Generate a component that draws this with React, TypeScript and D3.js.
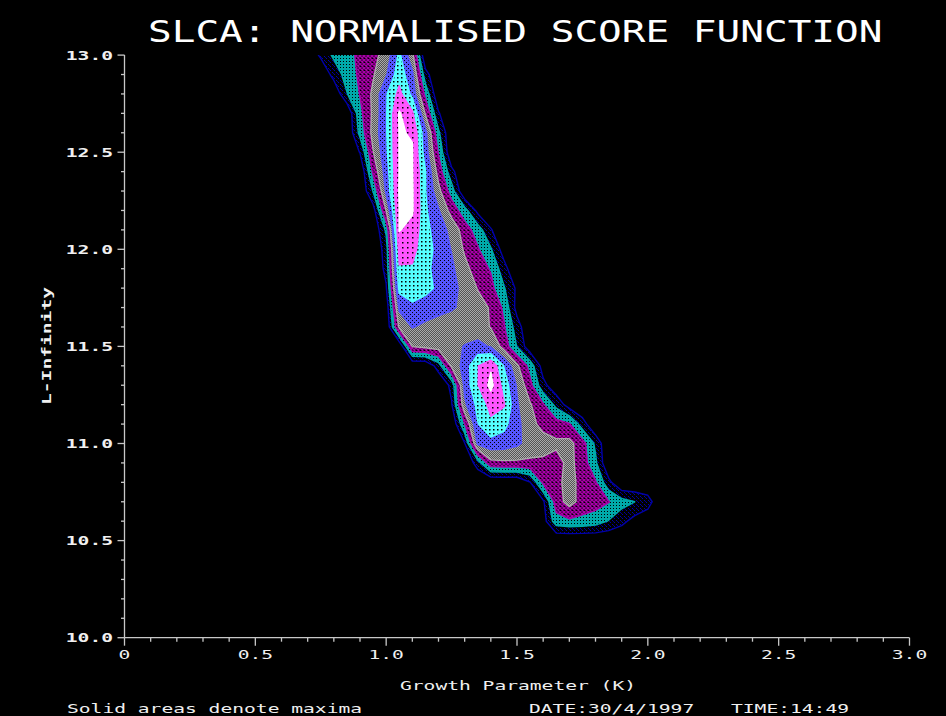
import React from 'react';
import * as d3 from 'd3';

const W = 946;
const H = 716;

// Grid of the score surface: growth parameter K (columns) by L-infinity (rows, top row first)
const kValues = [0.70, 0.75, 0.80, 0.85, 0.90, 0.95, 1.00, 1.05, 1.10, 1.15, 1.20, 1.25, 1.30, 1.35, 1.40,
  1.45, 1.50, 1.55, 1.60, 1.65, 1.70, 1.75, 1.80, 1.85, 1.90, 1.95, 2.00, 2.05, 2.10];
const lValues = [13.0, 12.9, 12.8, 12.7, 12.6, 12.5, 12.4, 12.3, 12.2, 12.1, 12.0, 11.9, 11.8, 11.7, 11.6,
  11.5, 11.4, 11.3, 11.2, 11.1, 11.0, 10.9, 10.8, 10.7, 10.6, 10.5];

// Normalised score (contour units) per row of lValues, per column of kValues
const scoreRows = [
  [0.1, 1.2, 2.2, 2.7, 3.2, 3.7, 4.4, 6.2, 4.3, 0, /**/ 0, 0, 0, 0, 0, 0, 0, 0, 0, 0, /**/ 0, 0, 0, 0, 0, 0, 0, 0, 0],
  [0, 0, 1.4, 2.4, 3.2, 3.9, 4.9, 6.6, 5.2, 1.4, /**/ 0, 0, 0, 0, 0, 0, 0, 0, 0, 0, /**/ 0, 0, 0, 0, 0, 0, 0, 0, 0],
  [0, 0, 0.1, 1.95, 3.05, 4.2, 5.9, 7.3, 5.7, 2.7, /**/ 0.1, 0, 0, 0, 0, 0, 0, 0, 0, 0, /**/ 0, 0, 0, 0, 0, 0, 0, 0, 0],
  [0, 0, 0, 0, 2.7, 4.2, 5.9, 8.1, 7.2, 3.9, /**/ 1.1, 0, 0, 0, 0, 0, 0, 0, 0, 0, /**/ 0, 0, 0, 0, 0, 0, 0, 0, 0],
  [0, 0, 0, 0, 2.3, 4.35, 5.9, 8.05, 7.95, 5.3, /**/ 2.2, 0, 0, 0, 0, 0, 0, 0, 0, 0, /**/ 0, 0, 0, 0, 0, 0, 0, 0, 0],
  [0, 0, 0, 0, 1.05, 3.95, 5.8, 8.05, 8.05, 5.5, /**/ 2.9, 0, 0, 0, 0, 0, 0, 0, 0, 0, /**/ 0, 0, 0, 0, 0, 0, 0, 0, 0],
  [0, 0, 0, 0, 0, 3.2, 5.5, 8.05, 8.05, 6.05, /**/ 3.6, 1.3, 0, 0, 0, 0, 0, 0, 0, 0, /**/ 0, 0, 0, 0, 0, 0, 0, 0, 0],
  [0, 0, 0, 0, 0, 2.05, 5.2, 8.1, 8.1, 6.05, /**/ 4.3, 2.5, 0, 0, 0, 0, 0, 0, 0, 0, /**/ 0, 0, 0, 0, 0, 0, 0, 0, 0],
  [0, 0, 0, 0, 0, 0.5, 4.05, 8.02, 8.1, 6.15, /**/ 5.1, 3.6, 2.4, 0.7, 0, 0, 0, 0, 0, 0, /**/ 0, 0, 0, 0, 0, 0, 0, 0, 0],
  [0, 0, 0, 0, 0, 0, 2.2, 8.05, 7.7, 6.3, /**/ 5.5, 4.7, 3.5, 2.5, 1.1, 0, 0, 0, 0, 0, /**/ 0, 0, 0, 0, 0, 0, 0, 0, 0],
  [0, 0, 0, 0, 0, 0, 1.5, 7.4, 7.3, 6.4, /**/ 5.7, 4.95, 3.85, 3.1, 2.1, 0.5, 0, 0, 0, 0, /**/ 0, 0, 0, 0, 0, 0, 0, 0, 0],
  [0, 0, 0, 0, 0, 0, 1.3, 6.9, 6.9, 6.2, /**/ 5.7, 5.2, 4.3, 3.5, 2.9, 1.4, 0, 0, 0, 0, /**/ 0, 0, 0, 0, 0, 0, 0, 0, 0],
  [0, 0, 0, 0, 0, 0, 0.9, 6.3, 6.5, 6.3, /**/ 5.8, 5.3, 4.7, 3.95, 3.3, 2.1, 0.8, 0, 0, 0, /**/ 0, 0, 0, 0, 0, 0, 0, 0, 0],
  [0, 0, 0, 0, 0, 0, 0.3, 5.2, 5.8, 5.5, /**/ 5.3, 5.1, 4.8, 4.4, 3.9, 2.8, 0.6, 0, 0, 0, /**/ 0, 0, 0, 0, 0, 0, 0, 0, 0],
  [0, 0, 0, 0, 0, 0, 0, 4.2, 5.05, 4.8, /**/ 4.6, 4.5, 4.5, 4.4, 3.95, 3.1, 1.5, 0, 0, 0, /**/ 0, 0, 0, 0, 0, 0, 0, 0, 0],
  [0, 0, 0, 0, 0, 0, 0, 0, 4.05, 4.3, /**/ 4.5, 4.7, 5.05, 5.3, 4.9, 3.6, 1.95, 0.3, 0, 0, /**/ 0, 0, 0, 0, 0, 0, 0, 0, 0],
  [0, 0, 0, 0, 0, 0, 0, 0, 0, 0, /**/ 1.5, 4.2, 5.4, 6.95, 7.85, 5.95, 4.2, 2.6, 0.5, 0, /**/ 0, 0, 0, 0, 0, 0, 0, 0, 0],
  [0, 0, 0, 0, 0, 0, 0, 0, 0, 0, /**/ 0, 1.3, 5.3, 6.95, 8.3, 6.6, 4.9, 3.3, 1.3, 0.3, /**/ 0, 0, 0, 0, 0, 0, 0, 0, 0],
  [0, 0, 0, 0, 0, 0, 0, 0, 0, 0, /**/ 0, 0.9, 4.8, 6.3, 7.3, 7.1, 5.1, 4.1, 3.1, 1.7, /**/ 0.5, 0, 0, 0, 0, 0, 0, 0, 0],
  [0, 0, 0, 0, 0, 0, 0, 0, 0, 0, /**/ 0, 0, 2.95, 5.95, 6.8, 6.3, 5.3, 4.3, 3.7, 3.4, /**/ 3.1, 1.5, 0, 0, 0, 0, 0, 0, 0],
  [0, 0, 0, 0, 0, 0, 0, 0, 0, 0, /**/ 0, 0, 0.95, 5.2, 5.6, 5.5, 5.2, 4.6, 4.4, 4.2, /**/ 4.3, 3.4, 1.8, 0, 0, 0, 0, 0, 0],
  [0, 0, 0, 0, 0, 0, 0, 0, 0, 0, /**/ 0, 0, 0, 1.5, 3.7, 3.8, 3.8, 3.8, 3.8, 3.6, /**/ 4.3, 3.5, 2.2, 0, 0, 0, 0, 0, 0],
  [0, 0, 0, 0, 0, 0, 0, 0, 0, 0, /**/ 0, 0, 0, 0, 0, 0, 0, 0.95, 3.2, 3.7, /**/ 4.4, 3.6, 3.1, 1.3, 0, 0, 0, 0, 0],
  [0, 0, 0, 0, 0, 0, 0, 0, 0, 0, /**/ 0, 0, 0, 0, 0, 0, 0, 0, 0.8, 3.5, /**/ 4.4, 3.6, 3.4, 3.05, 2.4, 2.0, 1.5, 0, 0],
  [0, 0, 0, 0, 0, 0, 0, 0, 0, 0, /**/ 0, 0, 0, 0, 0, 0, 0, 0, 0.5, 2.6, /**/ 2.8, 2.7, 2.5, 1.95, 1.3, 0.6, 0.2, 0, 0],
  [0, 0, 0, 0, 0, 0, 0, 0, 0, 0, /**/ 0, 0, 0, 0, 0, 0, 0, 0, 0, 0, /**/ 0, 0, 0, 0, 0, 0, 0, 0, 0],
];

const contourLevels = [1, 2, 3, 4, 5, 6, 7, 8];
const levelColors = ['#0000AA', '#00AAAA', '#AA00AA', '#AAAAAA', '#5555FF', '#55FFFF', '#FF55FF', '#FFFFFF'];

const xMajorTicks = [0, 0.5, 1.0, 1.5, 2.0, 2.5, 3.0];
const xTickLabels = ['0', '0.5', '1.0', '1.5', '2.0', '2.5', '3.0'];
const yMajorTicks = [10.0, 10.5, 11.0, 11.5, 12.0, 12.5, 13.0];
const yTickLabels = ['10.0', '10.5', '11.0', '11.5', '12.0', '12.5', '13.0'];

const titleText = 'SLCA: NORMALISED SCORE FUNCTION';
const xAxisTitle = 'Growth Parameter (K)';
const yAxisTitle = 'L-Infinity';
const footNote = 'Solid areas denote maxima';
const dateText = 'DATE:30/4/1997';
const timeText = 'TIME:14:49';

const MONO = "'DejaVu Sans Mono', 'Liberation Mono', monospace";

function WideText(props: {
  x: number; y: number; text: string; size: number; sx: number;
  anchor?: string; bold?: boolean; fill?: string; rotate?: number;
}) {
  const { x, y, text, size, sx, anchor = 'start', bold = false, fill = '#FFFFFF', rotate } = props;
  const t = `translate(${x},${y})${rotate ? ` rotate(${rotate})` : ''} scale(${sx},1)`;
  return (
    <text transform={t} textAnchor={anchor} fontFamily={MONO} fontSize={size}
      fontWeight={bold ? 'bold' : 'normal'} fill={fill}>{text}</text>
  );
}

export default function App() {
  const xScale = d3.scaleLinear().domain([0, 3]).range([124.5, 909.5]);
  const yScale = d3.scaleLinear().domain([10, 13]).range([637.7, 55.1]);

  const nK = kValues.length;
  const nL = lValues.length;
  const dk = kValues[1] - kValues[0];
  const dl = lValues[1] - lValues[0];
  const flat = scoreRows.flat();
  const bands = d3.contours().size([nK, nL]).thresholds(contourLevels)(flat);

  const proj = d3.geoTransform({
    point: function (px: number, py: number) {
      // @ts-ignore
      this.stream.point(xScale(kValues[0] + (px - 0.5) * dk), yScale(lValues[0] + (py - 0.5) * dl));
    },
  });
  const path = d3.geoPath(proj as any);

  const [x0, x1] = xScale.range();
  const [y0, y1] = yScale.range();
  const xMinor = d3.range(0, 31).map((i) => i / 10);
  const yMinor = d3.range(0, 31).map((i) => 10 + i / 10);
  const axisColor = '#C8C8C8';
  const labelColor = '#F0F0F0';
  const sxSmall = 1.51;

  return (
    <div style={{ position: 'absolute', left: 0, top: 0, width: W, height: H, background: '#000' }}>
      <svg width={W} height={H} style={{ display: 'block' }}>
        <defs>
          <clipPath id="plot-clip">
            <rect x={x0} y={y1} width={x1 - x0} height={y0 - y1} />
          </clipPath>
          <pattern id="band-1" width="4" height="4" patternUnits="userSpaceOnUse">
            <rect width="4" height="4" fill="#000000" />
            <rect x="0" y="0" width="1" height="1" fill="#0000AA" />
            <rect x="2" y="2" width="1" height="1" fill="#0000AA" />
            <rect x="1" y="1" width="1" height="1" fill="#00007A" />
          </pattern>
          <pattern id="band-2" width="3" height="3" patternUnits="userSpaceOnUse">
            <rect width="3" height="3" fill="#00AAAA" />
            <rect x="1" y="1" width="1" height="1" fill="#000000" />
          </pattern>
          <pattern id="band-3" width="4" height="4" patternUnits="userSpaceOnUse">
            <rect width="4" height="4" fill="#000000" />
            <path d="M0,0L4,4M4,0L0,4" stroke="#AA00AA" strokeWidth="1.5" />
          </pattern>
          <pattern id="band-4" width="2" height="2" patternUnits="userSpaceOnUse">
            <rect width="2" height="2" fill="#ABABAB" />
            <rect x="1" y="0" width="1" height="1" fill="#555555" />
            <rect x="0" y="1" width="1" height="1" fill="#555555" />
          </pattern>
          <pattern id="band-5" width="4" height="4" patternUnits="userSpaceOnUse">
            <rect width="4" height="4" fill="#5555FF" />
            <rect x="0" y="0" width="1" height="1" fill="#000000" />
            <rect x="2" y="2" width="1" height="1" fill="#000000" />
          </pattern>
          <pattern id="band-6" width="4" height="4" patternUnits="userSpaceOnUse">
            <rect width="4" height="4" fill="#55FFFF" />
            <rect x="1" y="1" width="1.5" height="1.5" fill="#000000" />
          </pattern>
          <pattern id="band-7" width="5" height="5" patternUnits="userSpaceOnUse">
            <rect width="5" height="5" fill="#FF55FF" />
            <rect x="2" y="2" width="1.5" height="1.5" fill="#000000" />
          </pattern>
          <pattern id="band-8" width="4" height="4" patternUnits="userSpaceOnUse">
            <rect width="4" height="4" fill="#FFFFFF" />
          </pattern>
        </defs>

        <rect x={0} y={0} width={W} height={H} fill="#000000" />

        <g clipPath="url(#plot-clip)">
          {bands.map((b, i) => (
            <g key={i}>
              <path d={path(b as any) || ''} fill={`url(#band-${i + 1})`} />
              <path d={path(b as any) || ''} fill="none" stroke={levelColors[i]} strokeWidth={1.4}
                strokeLinejoin="round" />
            </g>
          ))}
        </g>

        {/* axes */}
        <line x1={x0} x2={x1} y1={y0} y2={y0} stroke={axisColor} strokeWidth={1.3} />
        <line x1={x0} x2={x0} y1={y0} y2={y1} stroke={axisColor} strokeWidth={1.3} />
        {xMinor.map((v, i) => (
          <line key={`xm${i}`} x1={xScale(v)} x2={xScale(v)} y1={y0}
            y2={y0 + (i % 5 === 0 ? 8 : 4)} stroke={axisColor} strokeWidth={1.3} />
        ))}
        {yMinor.map((v, i) => (
          <line key={`ym${i}`} x1={x0 - (i % 5 === 0 ? 7 : 3.5)} x2={x0} y1={yScale(v)} y2={yScale(v)}
            stroke={axisColor} strokeWidth={1.3} />
        ))}
        {xMajorTicks.map((v, i) => (
          <WideText key={`xl${i}`} x={xScale(v)} y={659} text={xTickLabels[i]} size={13} sx={sxSmall}
            anchor="middle" fill={labelColor} />
        ))}
        {yMajorTicks.map((v, i) => (
          <WideText key={`yl${i}`} x={113} y={yScale(v) + 4.6} text={yTickLabels[i]} size={13} sx={sxSmall}
            anchor="end" bold fill={labelColor} />
        ))}

        <WideText x={51} y={346} text={yAxisTitle} size={13} sx={sxSmall} anchor="middle" bold
          rotate={-90} fill={labelColor} />
        <WideText x={518} y={689.5} text={xAxisTitle} size={13} sx={sxSmall} anchor="middle" fill={labelColor} />

        <WideText x={148} y={42} text={titleText} size={30} sx={1.312} fill="#FFFFFF" />

        <WideText x={67} y={712.5} text={footNote} size={13} sx={sxSmall} fill={labelColor} />
        <WideText x={529} y={712.5} text={dateText} size={13} sx={sxSmall} fill={labelColor} />
        <WideText x={731} y={712.5} text={timeText} size={13} sx={sxSmall} fill={labelColor} />
      </svg>
    </div>
  );
}
